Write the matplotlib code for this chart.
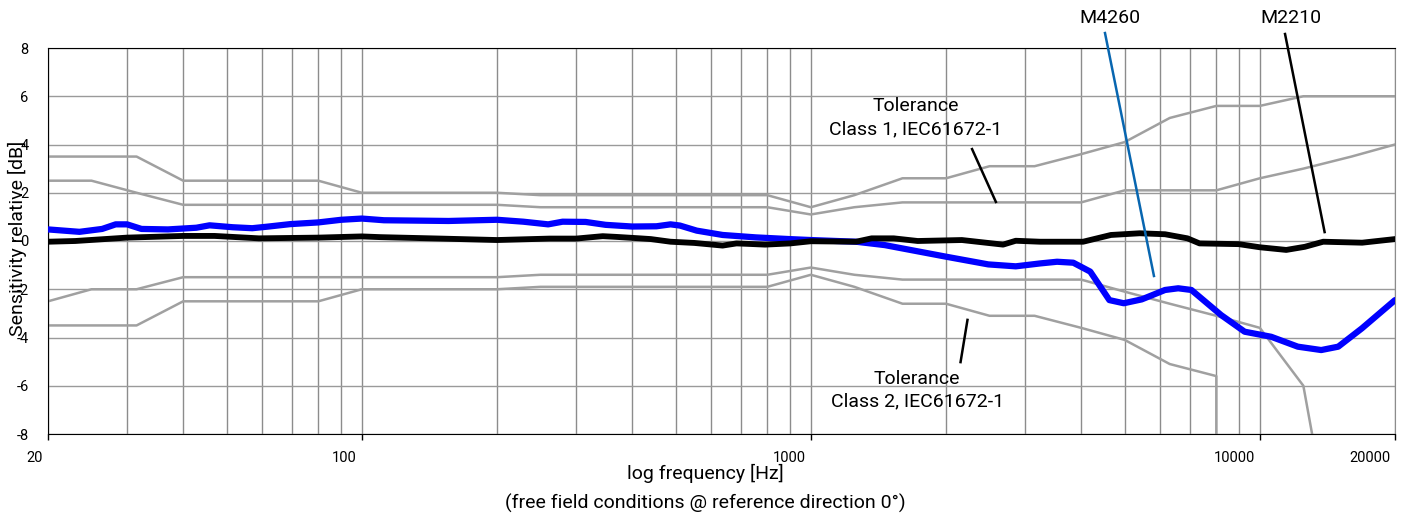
import numpy as np
import matplotlib
matplotlib.use("Agg")
import matplotlib.pyplot as plt
from matplotlib.ticker import LogLocator, FixedLocator, NullFormatter
from matplotlib.transforms import ScaledTranslation

plt.rcParams['font.family'] = ['Roboto', 'DejaVu Sans']

# IEC 61672-1 tolerance limits (third-octave frequencies)
tol_freq = [20, 25, 31.5, 40, 50, 63, 80, 100, 125, 160, 200, 250, 315, 400, 500,
            630, 800, 1000, 1250, 1600, 2000, 2500, 3150, 4000, 5000, 6300, 8000,
            10000, 12500, 16000, 20000]
class1_upper = [2.5, 2.5, 2.0, 1.5, 1.5, 1.5, 1.5, 1.5, 1.5, 1.5, 1.5, 1.4, 1.4, 1.4, 1.4,
                1.4, 1.4, 1.1, 1.4, 1.6, 1.6, 1.6, 1.6, 1.6, 2.1, 2.1, 2.1,
                2.6, 3.0, 3.5, 4.0]
class2_upper = [3.5, 3.5, 3.5, 2.5, 2.5, 2.5, 2.5, 2.0, 2.0, 2.0, 2.0, 1.9, 1.9, 1.9, 1.9,
                1.9, 1.9, 1.4, 1.9, 2.6, 2.6, 3.1, 3.1, 3.6, 4.1, 5.1, 5.6,
                5.6, 6.0, 6.0, 6.0]
# lower limits end where the standard gives -inf (drawn as a drop off the chart)
class1_lower_freq = tol_freq[:30]
class1_lower = [-2.5, -2.0, -2.0, -1.5, -1.5, -1.5, -1.5, -1.5, -1.5, -1.5, -1.5, -1.4, -1.4,
                -1.4, -1.4, -1.4, -1.4, -1.1, -1.4, -1.6, -1.6, -1.6, -1.6, -1.6, -2.1,
                -2.6, -3.1, -3.6, -6.0, -17.0]
class2_lower_freq = tol_freq[:27] + [8000]
class2_lower = [-3.5, -3.5, -3.5, -2.5, -2.5, -2.5, -2.5, -2.0, -2.0, -2.0, -2.0, -1.9, -1.9,
                -1.9, -1.9, -1.9, -1.9, -1.4, -1.9, -2.6, -2.6, -3.1, -3.1, -3.6, -4.1,
                -5.1, -5.6, -30.0]

# M4260 response (blue)
m4260_freq = [20, 23.5, 26.4, 28.3, 30, 32.3, 37, 42.8, 45.8, 51.6, 57, 62, 69.3, 80, 90,
              100, 112, 156, 200, 229, 260, 280, 315, 349, 400, 453, 487, 511, 557, 636,
              754, 895, 1000, 1261, 1461, 2000, 2484, 2860, 3240, 3535, 3842, 4191, 4623,
              4977, 5457, 6150, 6580, 7040, 8200, 9250, 10600, 12150, 13700, 14950,
              16880, 20000]
m4260_db = [0.48, 0.38, 0.5, 0.69, 0.69, 0.5, 0.48, 0.55, 0.65, 0.57, 0.53, 0.6, 0.7, 0.77,
            0.88, 0.93, 0.86, 0.83, 0.88, 0.8, 0.69, 0.8, 0.79, 0.67, 0.6, 0.61, 0.69, 0.64,
            0.43, 0.25, 0.15, 0.08, 0.04, -0.03, -0.17, -0.65, -0.97, -1.05, -0.93, -0.86,
            -0.9, -1.27, -2.45, -2.58, -2.42, -2.03, -1.96, -2.03, -3.07, -3.76, -3.97,
            -4.38, -4.52, -4.38, -3.62, -2.45]

# M2210 response (black)
m2210_freq = [20, 23, 30, 40, 47, 59, 80, 100, 110, 150, 200, 262, 300, 344, 369, 416, 440,
              487, 550, 636, 683, 727, 791, 900, 1000, 1261, 1366, 1530, 1730, 2170, 2680,
              2860, 3240, 4040, 4660, 5400, 6150, 6900, 7340, 8980, 10000, 11450, 12600,
              13840, 16900, 20000]
m2210_db = [-0.03, 0.0, 0.14, 0.21, 0.21, 0.11, 0.14, 0.19, 0.16, 0.1, 0.04, 0.1, 0.1, 0.2,
            0.17, 0.11, 0.08, -0.03, -0.08, -0.19, -0.1, -0.12, -0.15, -0.1, -0.01, -0.03,
            0.11, 0.11, 0.0, 0.04, -0.15, 0.01, -0.03, -0.03, 0.25, 0.32, 0.28, 0.11, -0.1,
            -0.13, -0.26, -0.37, -0.24, -0.03, -0.07, 0.08]

x_ticks = [20, 100, 1000, 10000, 20000]
y_ticks = [-8, -6, -4, -2, 0, 2, 4, 6, 8]

fig = plt.figure(figsize=(14.16, 5.14), dpi=100)
ax = fig.add_axes([48 / 1416, 80 / 514, 1347 / 1416, 386 / 514])

ax.set_xscale('log')
ax.set_xlim(20, 20000)
ax.set_ylim(-8, 8)

ax.xaxis.set_major_locator(FixedLocator(x_ticks))
ax.set_xticklabels([str(t) for t in x_ticks])
ax.xaxis.set_minor_locator(LogLocator(base=10, subs=np.arange(1, 10), numticks=20))
ax.xaxis.set_minor_formatter(NullFormatter())
ax.set_yticks(y_ticks)
ax.set_yticklabels([str(t) for t in y_ticks])

ax.grid(which='both', axis='x', color='#8c8c8c', lw=1)
ax.grid(which='major', axis='y', color='#9a9a9a', lw=1)
ax.set_axisbelow(True)

ax.tick_params(axis='x', which='major', direction='out', length=4, width=1,
               labelsize=10.5, pad=8, colors='black')
ax.tick_params(axis='x', which='minor', length=0)
ax.tick_params(axis='y', length=0, labelsize=10.5, pad=14)
shift = ScaledTranslation(-5 / 100, 0, fig.dpi_scale_trans)
for lab in ax.get_xticklabels():
    lab.set_ha('right')
    lab.set_transform(lab.get_transform() + shift)
ax.spines['right'].set_color('#8c8c8c')

# tolerance bands
tol_col = '#a0a0a0'
ax.plot(tol_freq, class1_upper, color=tol_col, lw=1.8, zorder=2)
ax.plot(tol_freq, class2_upper, color=tol_col, lw=1.8, zorder=2)
ax.plot(class1_lower_freq, class1_lower, color=tol_col, lw=1.8, zorder=2)
ax.plot(class2_lower_freq, class2_lower, color=tol_col, lw=1.8, zorder=2)

# microphone responses
ax.plot(m4260_freq, m4260_db, color='#0000ff', lw=4.5, solid_joinstyle='round',
        solid_capstyle='round', zorder=3)
ax.plot(m2210_freq, m2210_db, color='black', lw=4.2, solid_joinstyle='round',
        solid_capstyle='round', zorder=4)

# labels with leader lines
fs = 14
ax.text(4637, 9.24, 'M4260', ha='center', va='center', fontsize=fs, clip_on=False)
ax.text(11730, 9.24, 'M2210', ha='center', va='center', fontsize=fs, clip_on=False)
ax.plot([4520, 5810], [8.62, -1.45], color='#0866b0', lw=1.8, clip_on=False, zorder=5)
ax.plot([11380, 13940], [8.58, 0.37], color='black', lw=1.8, clip_on=False, zorder=5)

ax.text(1715, 5.12, 'Tolerance\nClass 1, IEC61672-1', ha='center', va='center',
        fontsize=fs, linespacing=1.35)
ax.plot([2286, 2583], [3.81, 1.62], color='black', lw=1.8, zorder=5)
ax.text(1725, -6.18, 'Tolerance\nClass 2, IEC61672-1', ha='center', va='center',
        fontsize=fs, linespacing=1.35)
ax.plot([2233, 2155], [-3.27, -5.02], color='black', lw=1.8, zorder=5)

fig.text(17 / 1416, 1 - 238 / 514, 'Sensitivity relative [dB]', rotation=90,
         ha='center', va='center', fontsize=fs)
fig.text(705 / 1416, 1 - 473 / 514, 'log frequency [Hz]', ha='center', va='center',
         fontsize=fs)
fig.text(705 / 1416, 1 - 503 / 514, '(free field conditions @ reference direction 0°)',
         ha='center', va='center', fontsize=fs)

fig.savefig('out.png', dpi=100)
